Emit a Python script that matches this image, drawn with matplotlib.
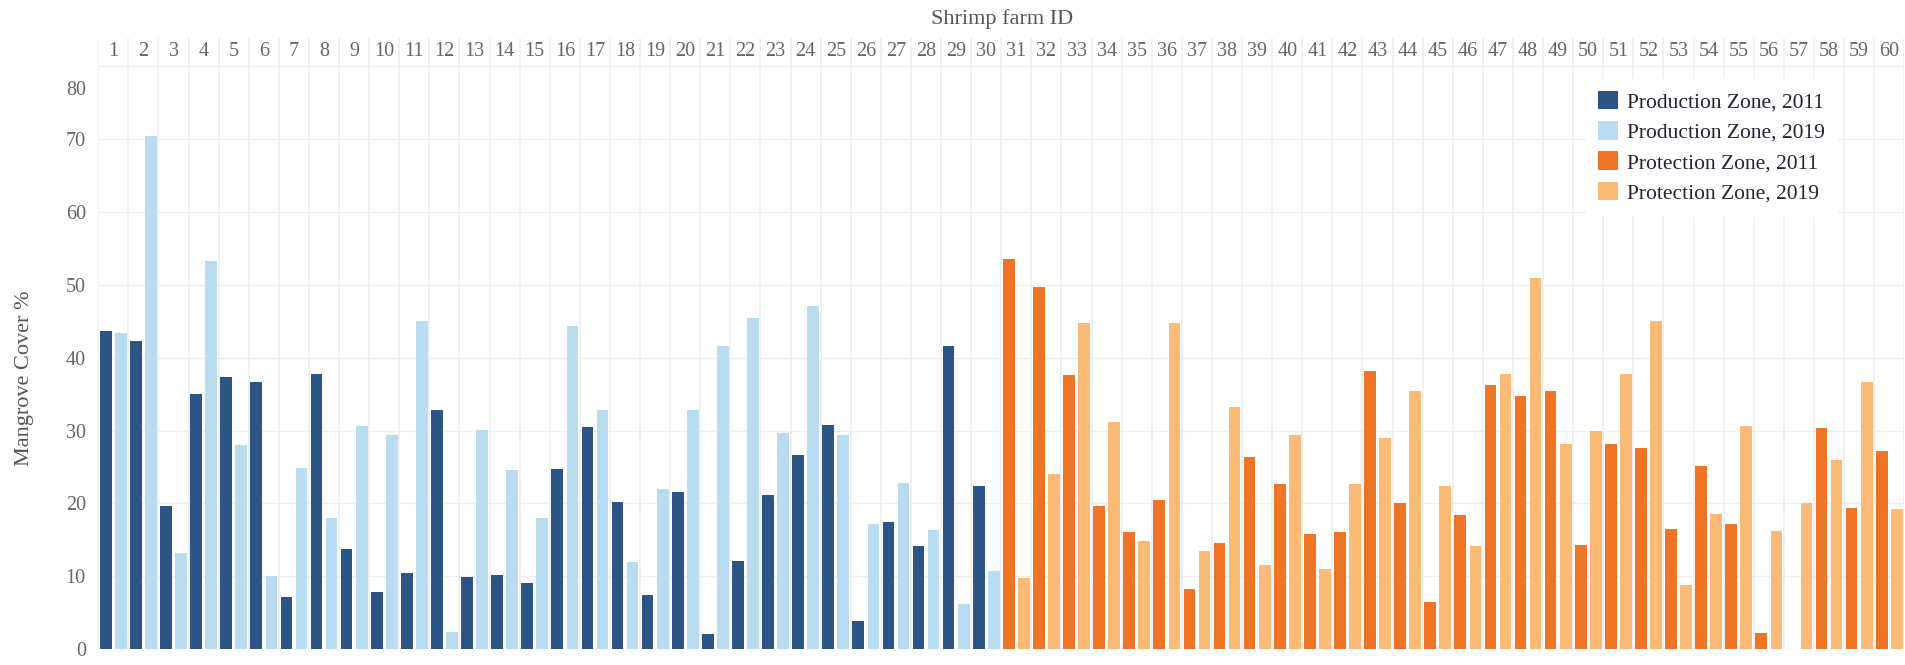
import matplotlib
matplotlib.use("Agg")
import matplotlib.pyplot as plt
from matplotlib.patches import Patch
from matplotlib.transforms import offset_copy

plt.rcParams['font.family'] = ['Liberation Serif', 'DejaVu Serif']

# farms 1-30 (production zone) and 31-60 (protection zone)
prod_ids = list(range(1, 31))
prot_ids = list(range(31, 61))

prod_2011 = [43.7, 42.3, 19.6, 35.0, 37.3, 36.6, 7.1, 37.7, 13.7, 7.8,
             10.5, 32.8, 9.9, 10.1, 9.1, 24.7, 30.5, 20.2, 7.4, 21.6,
             2.1, 12.1, 21.1, 26.6, 30.7, 3.9, 17.4, 14.2, 41.6, 22.4]
prod_2019 = [43.4, 70.5, 13.2, 53.3, 28.0, 10.0, 24.9, 18.0, 30.6, 29.4,
             45.0, 2.4, 30.1, 24.6, 18.0, 44.4, 32.8, 12.0, 22.0, 32.8,
             41.6, 45.5, 29.7, 47.1, 29.4, 17.1, 22.8, 16.3, 6.2, 10.7]
prot_2011 = [53.5, 49.7, 37.6, 19.7, 16.0, 20.4, 8.2, 14.6, 26.4, 22.6,
             15.8, 16.0, 38.2, 20.1, 6.5, 18.4, 36.2, 34.7, 35.4, 14.3,
             28.2, 27.6, 16.5, 25.1, 17.2, 2.2, 0.0, 30.4, 19.4, 27.2]
prot_2019 = [9.8, 24.0, 44.7, 31.2, 14.8, 44.7, 13.5, 33.2, 11.6, 29.4,
             11.0, 22.6, 29.0, 35.4, 22.4, 14.1, 37.8, 51.0, 28.1, 30.0,
             37.8, 45.0, 8.8, 18.5, 30.6, 16.2, 20.1, 26.0, 36.6, 19.2]

labels = ["Production Zone, 2011", "Production Zone, 2019",
          "Protection Zone, 2011", "Protection Zone, 2019"]
colors = ["#2c5585", "#b9dcf0", "#ee7526", "#fbbb76"]

W, H = 1906, 665
fig = plt.figure(figsize=(W / 100, H / 100), dpi=100)
ax = fig.add_axes([98.3 / W, 16 / H, 1806 / W, 611 / H])

bw = 0.39
off = 0.25
ax.bar([i - off for i in prod_ids], prod_2011, bw, color=colors[0], zorder=3)
ax.bar([i + off for i in prod_ids], prod_2019, bw, color=colors[1], zorder=3)
ax.bar([i - off for i in prot_ids], prot_2011, bw, color=colors[2], zorder=3)
ax.bar([i + off for i in prot_ids], prot_2019, bw, color=colors[3], zorder=3)

top = 83.9
ax.set_xlim(0.5, 60.5)
ax.set_ylim(0, top)

# horizontal grid + farm separators
for v in range(0, 90, 10):
    ax.axhline(v, color="#efefef", lw=1.0, zorder=1)
for k in range(0, 61):
    ax.axvline(k + 0.5, color="#ededed", lw=1.1, zorder=1)

all_ids = prod_ids + prot_ids
for k in all_ids:
    ax.text(k, 82.0, str(k), ha="center", va="center", fontsize=14.5, color="#666666")

ax.set_yticks(range(0, 90, 10))
ax.tick_params(axis="y", length=0, pad=9, labelsize=14.5, labelcolor="#666666")
ax.set_xticks([])
for s in ax.spines.values():
    s.set_visible(False)
# top label sits inside the pane like the original
lab80 = ax.get_yticklabels()[-1]
lab80.set_transform(offset_copy(lab80.get_transform(), fig=fig, y=-22, units="dots"))

fig.text(1002 / W, 1 - 19 / H, "Shrimp farm ID", ha="center", va="center",
         fontsize=16, color="#555555")
fig.text(25 / W, 1 - 378 / H, "Mangrove Cover %", ha="center", va="center",
         rotation=90, fontsize=16, color="#555555")

handles = [Patch(facecolor=c) for c in colors]
leg = ax.legend(handles, labels, loc="upper left",
                bbox_to_anchor=(1586 / W, 1 - 79 / H), bbox_transform=fig.transFigure,
                fontsize=15.5, frameon=True, fancybox=False, borderpad=0.55,
                borderaxespad=0, handlelength=0.95, handleheight=0.95,
                handletextpad=0.4, labelspacing=0.4)
leg.get_frame().set_facecolor("white")
leg.get_frame().set_edgecolor("white")
leg.get_frame().set_alpha(1)
leg.set_zorder(5)
for t in leg.get_texts():
    t.set_color("#2a2030")

fig.savefig("out.png", dpi=100, facecolor="white")
